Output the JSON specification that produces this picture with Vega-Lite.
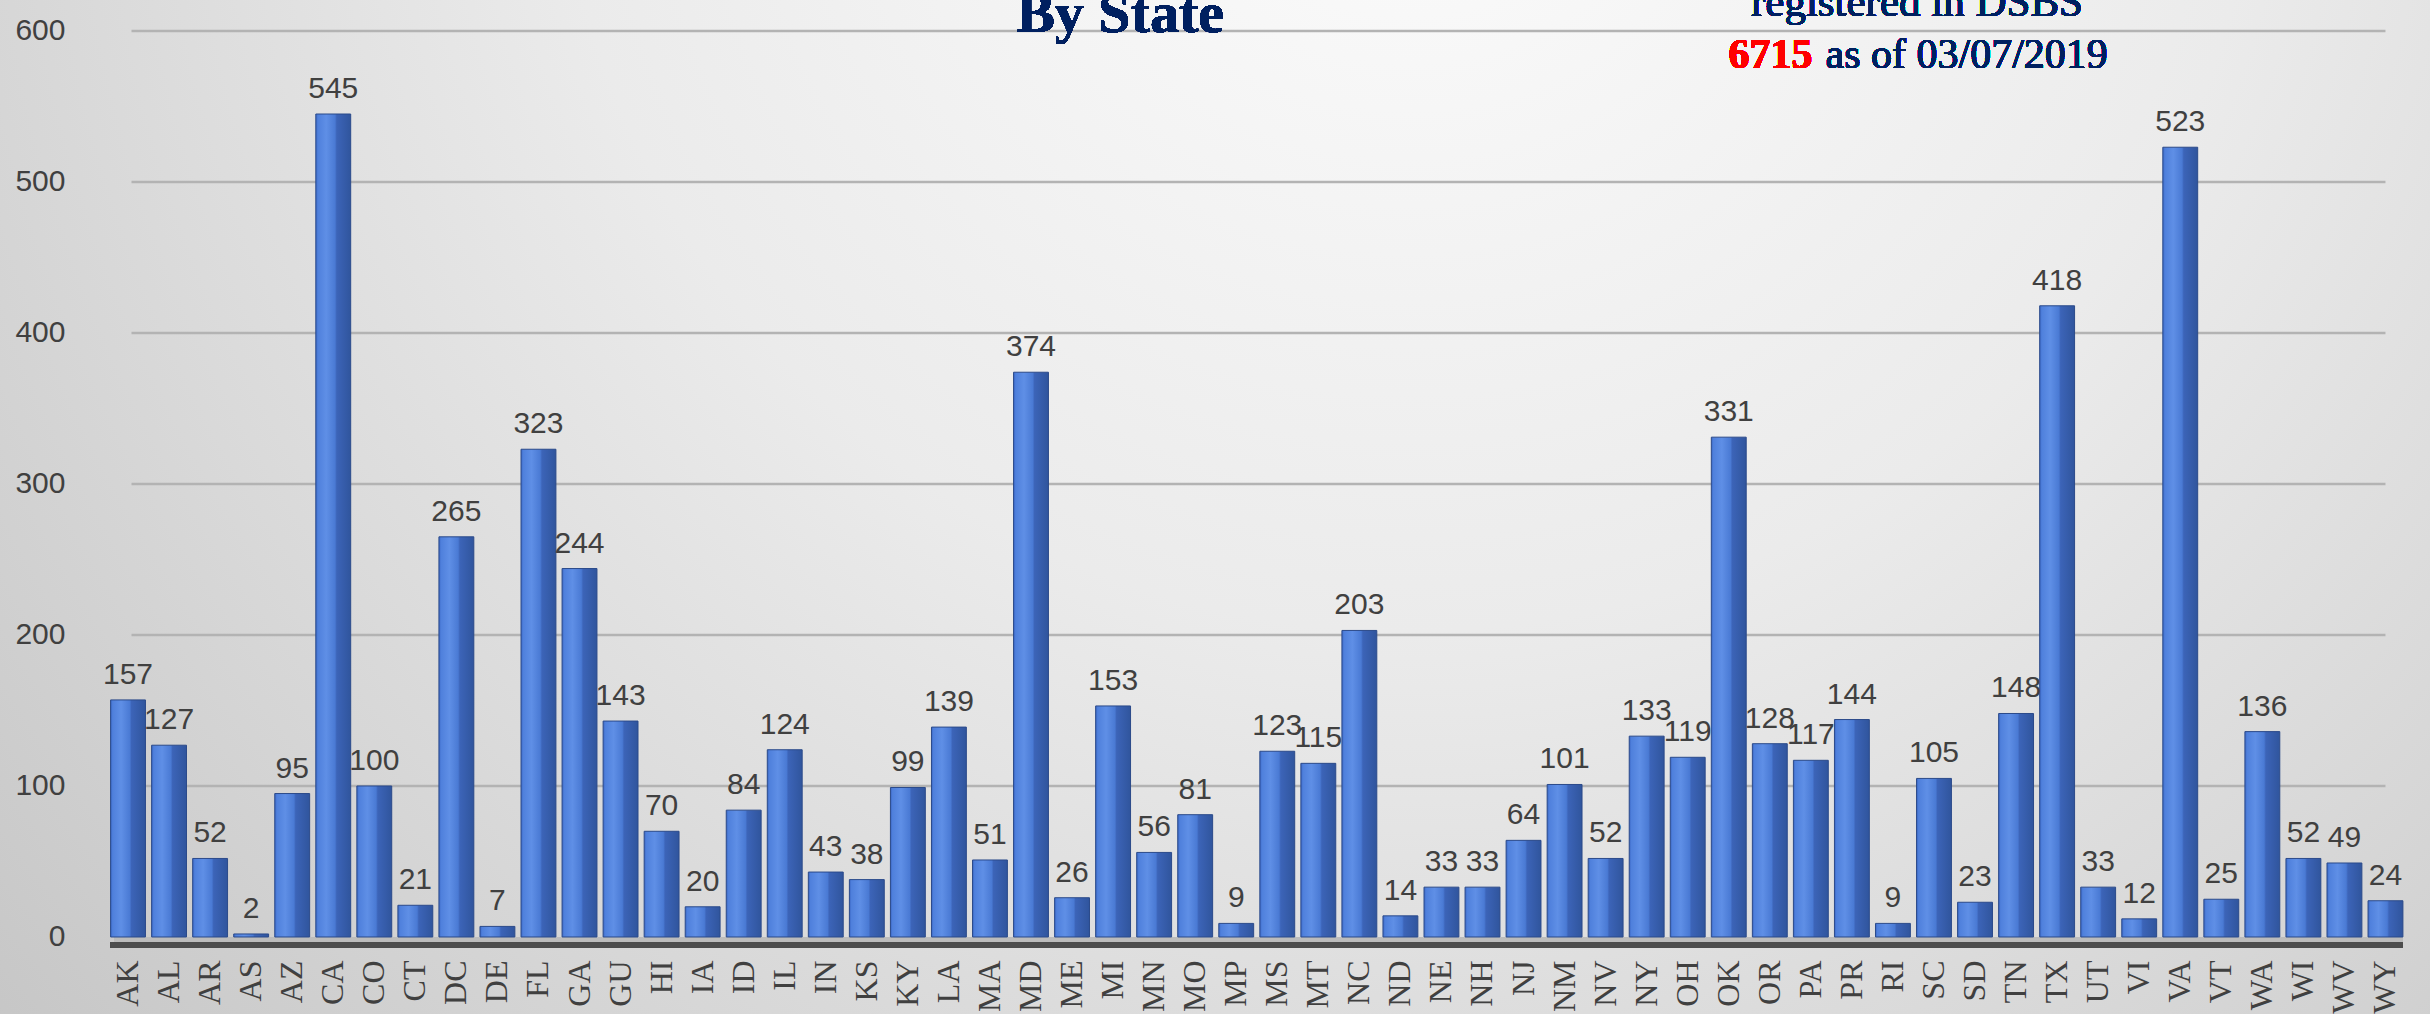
{
  "$schema": "https://vega.github.io/schema/vega-lite/v6.json",
  "width": 2430,
  "height": 1014,
  "padding": 0,
  "autosize": {"type": "none"},
  "background": "#c9c9c9",
  "view": {
    "stroke": null,
    "fill": {
      "gradient": "radial",
      "x1": 0.58, "y1": 0.2, "r1": 0,
      "x2": 0.58, "y2": 0.2, "r2": 0.78,
      "stops": [
        {"offset": 0, "color": "#fdfdfd"},
        {"offset": 0.45, "color": "#ebebeb"},
        {"offset": 1, "color": "#c6c6c6"}
      ]
    }
  },
  "datasets": {
    "states": [
      {"state": "AK", "count": 157}, {"state": "AL", "count": 127}, {"state": "AR", "count": 52},
      {"state": "AS", "count": 2}, {"state": "AZ", "count": 95}, {"state": "CA", "count": 545},
      {"state": "CO", "count": 100}, {"state": "CT", "count": 21}, {"state": "DC", "count": 265},
      {"state": "DE", "count": 7}, {"state": "FL", "count": 323}, {"state": "GA", "count": 244},
      {"state": "GU", "count": 143}, {"state": "HI", "count": 70}, {"state": "IA", "count": 20},
      {"state": "ID", "count": 84}, {"state": "IL", "count": 124}, {"state": "IN", "count": 43},
      {"state": "KS", "count": 38}, {"state": "KY", "count": 99}, {"state": "LA", "count": 139},
      {"state": "MA", "count": 51}, {"state": "MD", "count": 374}, {"state": "ME", "count": 26},
      {"state": "MI", "count": 153}, {"state": "MN", "count": 56}, {"state": "MO", "count": 81},
      {"state": "MP", "count": 9}, {"state": "MS", "count": 123}, {"state": "MT", "count": 115},
      {"state": "NC", "count": 203}, {"state": "ND", "count": 14}, {"state": "NE", "count": 33},
      {"state": "NH", "count": 33}, {"state": "NJ", "count": 64}, {"state": "NM", "count": 101},
      {"state": "NV", "count": 52}, {"state": "NY", "count": 133}, {"state": "OH", "count": 119},
      {"state": "OK", "count": 331}, {"state": "OR", "count": 128}, {"state": "PA", "count": 117},
      {"state": "PR", "count": 144}, {"state": "RI", "count": 9}, {"state": "SC", "count": 105},
      {"state": "SD", "count": 23}, {"state": "TN", "count": 148}, {"state": "TX", "count": 418},
      {"state": "UT", "count": 33}, {"state": "VI", "count": 12}, {"state": "VA", "count": 523},
      {"state": "VT", "count": 25}, {"state": "WA", "count": 136}, {"state": "WI", "count": 52},
      {"state": "WV", "count": 49}, {"state": "WY", "count": 24}
    ],
    "grid": [{"v": 100}, {"v": 200}, {"v": 300}, {"v": 400}, {"v": 500}, {"v": 600}]
  },
  "data": {"name": "states"},
  "layer": [
    {
      "data": {"name": "grid"},
      "mark": {"type": "rule", "color": "#b3b3b3", "strokeWidth": 2.5},
      "encoding": {
        "x": {"datum": "AK", "bandPosition": 0.6},
        "x2": {"datum": "WY", "bandPosition": 0.5},
        "y": {"field": "v", "type": "quantitative"}
      }
    },
    {
      "mark": {"type": "rule", "color": "#bcbcbc", "strokeWidth": 6},
      "encoding": {
        "x": {"datum": "AK", "bandPosition": 0.1},
        "x2": {"datum": "WY", "bandPosition": 1},
        "y": {"datum": -2}
      }
    },
    {
      "mark": {"type": "rule", "color": "#4d4d4d", "strokeWidth": 5},
      "encoding": {
        "x": {"datum": "AK", "bandPosition": 0},
        "x2": {"datum": "WY", "bandPosition": 1},
        "y": {"datum": -5.5}
      }
    },
    {
      "mark": {
        "type": "bar",
        "stroke": "#2b4a8a",
        "strokeWidth": 1,
        "color": {
          "gradient": "linear",
          "x1": 0, "y1": 0, "x2": 1, "y2": 0,
          "stops": [
            {"offset": 0, "color": "#3a66c4"},
            {"offset": 0.06, "color": "#4f80dc"},
            {"offset": 0.3, "color": "#5f8fe6"},
            {"offset": 0.55, "color": "#4a7ad4"},
            {"offset": 0.6, "color": "#3c64b8"},
            {"offset": 1, "color": "#30559d"}
          ]
        }
      },
      "encoding": {
        "x": {
          "field": "state",
          "type": "nominal",
          "sort": null,
          "scale": {
            "type": "band",
            "domain": ["AK","AL","AR","AS","AZ","CA","CO","CT","DC","DE","FL","GA","GU","HI","IA","ID","IL","IN","KS","KY","LA","MA","MD","ME","MI","MN","MO","MP","MS","MT","NC","ND","NE","NH","NJ","NM","NV","NY","OH","OK","OR","PA","PR","RI","SC","SD","TN","TX","UT","VI","VA","VT","WA","WI","WV","WY"],
            "range": [107.5, 2406],
            "paddingInner": 0.15, "paddingOuter": 0.075
          },
          "axis": {
            "orient": "bottom",
            "offset": -64,
            "domain": false,
            "ticks": false,
            "grid": false,
            "labelAngle": -90,
            "labelPadding": 10,
            "labelFont": "Liberation Serif",
            "labelFontSize": 32,
            "labelColor": "#404040",
            "labelOverlap": false,
            "title": null
          }
        },
        "y": {
          "field": "count",
          "type": "quantitative",
          "scale": {"domain": [-51, 620.5], "nice": false, "zero": false},
          "axis": {
            "values": [0, 100, 200, 300, 400, 500, 600],
            "offset": -107,
            "domain": false,
            "ticks": false,
            "grid": false,
            "labelPadding": 42,
            "labelFont": "Liberation Sans",
            "labelFontSize": 30,
            "labelColor": "#404040",
            "title": null
          }
        },
        "y2": {"datum": 0}
      }
    },
    {
      "mark": {"type": "text", "dy": -16, "baseline": "alphabetic", "font": "Liberation Sans", "fontSize": 30, "color": "#404040"},
      "encoding": {
        "x": {"field": "state", "type": "nominal", "sort": null},
        "y": {"field": "count", "type": "quantitative"},
        "text": {"field": "count", "type": "quantitative"}
      }
    },
    {
      "mark": {"type": "text", "text": "By State", "font": "Liberation Serif", "fontWeight": "bold", "fontSize": 58, "color": "#002060", "align": "center", "baseline": "alphabetic", "dx": 7},
      "encoding": {"x": {"datum": "MI"}, "y": {"datum": 599}}
    },
    {
      "mark": {"type": "text", "text": "registered in DSBS", "font": "Liberation Serif", "fontSize": 43, "color": "#002060", "align": "center", "baseline": "alphabetic", "dx": -17},
      "encoding": {"x": {"datum": "SC"}, "y": {"datum": 610.2}}
    },
    {
      "mark": {"type": "text", "text": "6715", "font": "Liberation Serif", "fontWeight": "bold", "fontSize": 42, "color": "#ff0000", "align": "right", "baseline": "alphabetic", "dx": -121.5},
      "encoding": {"x": {"datum": "SC"}, "y": {"datum": 575.5}}
    },
    {
      "mark": {"type": "text", "text": "as of 03/07/2019", "font": "Liberation Serif", "fontSize": 42, "color": "#002060", "align": "left", "baseline": "alphabetic", "dx": -108.5},
      "encoding": {"x": {"datum": "SC"}, "y": {"datum": 575.5}}
    }
  ]
}
